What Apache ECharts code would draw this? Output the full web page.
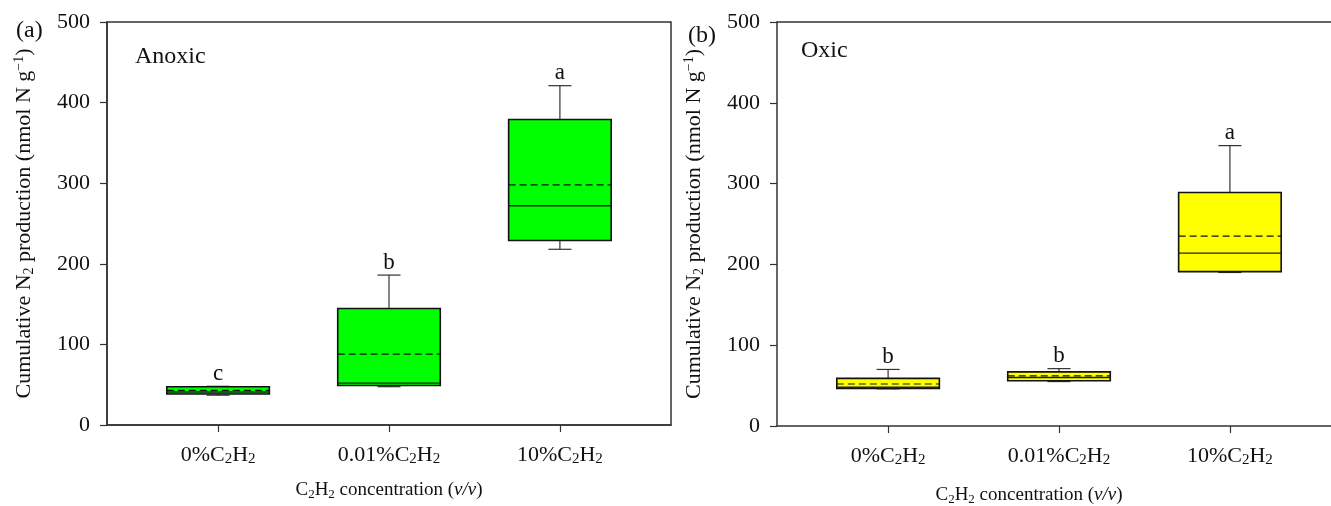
<!DOCTYPE html>
<html>
<head>
<meta charset="utf-8">
<script src="https://cdn.jsdelivr.net/npm/echarts@6/dist/echarts.min.js"></script>
<style>
    html, body { margin: 0; padding: 0; background: #fff; }
    #chart { width: 1331px; height: 506px; }
</style>
</head>
<body>
<div id="chart"></div>
<script>
// categories on the x axis (positions 1, 2, 3)
const categories = ['0%', '0.01%', '10%'];
const catPos = [1, 2, 3];

// anoxic panel (a)
const anoxicLow = [37, 47.5, 218];
const anoxicQ1 = [38.5, 49, 229];
const anoxicMedian = [41, 52, 272];
const anoxicMean = [43, 88, 298];
const anoxicQ3 = [47.5, 144.5, 379];
const anoxicHigh = [48, 186, 421];
const anoxicLetters = ['c', 'b', 'a'];

// oxic panel (b)
const oxicLow = [46, 55, 190];
const oxicQ1 = [46.5, 56, 191];
const oxicMedian = [48, 60, 214];
const oxicMean = [52, 62, 235];
const oxicQ3 = [59, 67, 289];
const oxicHigh = [70, 71, 347];
const oxicLetters = ['b', 'b', 'a'];

const yTicks = [0, 100, 200, 300, 400, 500];

const FONT = "'Liberation Serif', 'Times New Roman', serif";
const BOX_W = 0.6;
const CAP_W = 0.135;

function buildRows(low, q1, med, mean, q3, high, letters) {
    return catPos.map((x, i) => ({
        value: [x, low[i], q1[i], med[i], mean[i], q3[i], high[i]],
        letter: letters[i]
    }));
}

function makeRender(rows, fill) {
    return function (params, api) {
        const x = api.value(0);
        const low = api.coord([x, api.value(1)]);
        const q1 = api.coord([x, api.value(2)]);
        const med = api.coord([x, api.value(3)]);
        const mean = api.coord([x, api.value(4)]);
        const q3 = api.coord([x, api.value(5)]);
        const high = api.coord([x, api.value(6)]);
        const halfBox = api.size([BOX_W, 0])[0] / 2;
        const halfCap = api.size([CAP_W, 0])[0] / 2;
        const cx = q1[0];
        const thin = { stroke: '#333', lineWidth: 1.2 };
        return {
            type: 'group',
            children: [
                { type: 'line', shape: { x1: cx, y1: q3[1], x2: cx, y2: high[1] }, style: thin },
                { type: 'line', shape: { x1: cx, y1: q1[1], x2: cx, y2: low[1] }, style: thin },
                { type: 'line', shape: { x1: cx - halfCap, y1: high[1], x2: cx + halfCap, y2: high[1] }, style: thin },
                { type: 'line', shape: { x1: cx - halfCap, y1: low[1], x2: cx + halfCap, y2: low[1] }, style: thin },
                {
                    type: 'rect',
                    shape: { x: cx - halfBox, y: q3[1], width: halfBox * 2, height: q1[1] - q3[1] },
                    style: { fill: fill, stroke: '#111', lineWidth: 1.6 }
                },
                { type: 'line', shape: { x1: cx - halfBox, y1: med[1], x2: cx + halfBox, y2: med[1] }, style: { stroke: '#222', lineWidth: 1.4 } },
                { type: 'line', shape: { x1: cx - halfBox, y1: mean[1], x2: cx + halfBox, y2: mean[1] }, style: { stroke: '#111', lineWidth: 1.2, lineDash: [7, 4] } },
                {
                    type: 'text',
                    x: cx, y: high[1] - 1,
                    style: {
                        text: rows[params.dataIndex].letter,
                        fontFamily: FONT, fontSize: 23, fill: '#111',
                        align: 'center', verticalAlign: 'bottom'
                    }
                }
            ]
        };
    };
}

const subStyle = { fontFamily: FONT, fontSize: 15, lineHeight: 6, verticalAlign: 'bottom', color: '#111' };
const supStyle = { fontFamily: FONT, fontSize: 14, lineHeight: 6, verticalAlign: 'top', color: '#111' };
const axisColor = '#333';

function xAxisFor(gridIndex, titlePad, titleGap) {
    return {
        type: 'value', gridIndex: gridIndex, min: 0.35, max: 3.65,
        splitLine: { show: false },
        axisLine: { lineStyle: { color: axisColor, width: 1.5 } },
        axisTick: { customValues: catPos, length: 7, lineStyle: { color: axisColor, width: 1.2 } },
        axisLabel: {
            customValues: catPos, margin: 18,
            fontFamily: FONT, fontSize: 22, color: '#111', lineHeight: 24,
            formatter: (v) => categories[catPos.indexOf(v)] + 'C{s|2}H{s|2}',
            rich: { s: subStyle }
        },
        name: 'C{s|2}H{s|2} concentration ({i|v/v})',
        nameLocation: 'middle', nameGap: titleGap,
        nameTextStyle: {
            fontFamily: FONT, fontSize: 19, color: '#111', lineHeight: 22,
            padding: titlePad,
            rich: {
                s: Object.assign({}, subStyle, { fontSize: 13 }),
                i: { fontFamily: FONT, fontSize: 19, fontStyle: 'italic', color: '#111' }
            }
        }
    };
}

// plain top line used as the frame of panel (b)
function topFrame(gridIndex) {
    return {
        type: 'value', gridIndex: gridIndex, position: 'top', min: 0.35, max: 3.65,
        splitLine: { show: false },
        axisLine: { show: true, lineStyle: { color: axisColor, width: 1.5 } },
        axisTick: { show: false },
        axisLabel: { show: false }
    };
}

function yAxisFor(gridIndex) {
    return {
        type: 'value', gridIndex: gridIndex, min: 0, max: 500, interval: 100,
        splitLine: { show: false },
        axisLine: { show: true, lineStyle: { color: axisColor, width: 1.5 } },
        axisTick: { show: true, length: 7, lineStyle: { color: axisColor, width: 1.2 } },
        axisLabel: {
            margin: 17, fontFamily: FONT, fontSize: 22, color: '#111',
            customValues: yTicks
        },
        name: 'Cumulative N{s|2} production (nmol N g{p|\u22121})',
        nameLocation: 'middle', nameGap: 71, nameRotate: 90,
        nameTextStyle: {
            fontFamily: FONT, fontSize: 22, color: '#111', lineHeight: 24,
            rich: { s: Object.assign({}, subStyle, { fontSize: 14 }), p: supStyle }
        }
    };
}

const anoxicRows = buildRows(anoxicLow, anoxicQ1, anoxicMedian, anoxicMean, anoxicQ3, anoxicHigh, anoxicLetters);
const oxicRows = buildRows(oxicLow, oxicQ1, oxicMedian, oxicMean, oxicQ3, oxicHigh, oxicLetters);

const chart = echarts.init(document.getElementById('chart'), null, { renderer: 'canvas' });

const headStyle = { fontFamily: FONT, fontSize: 24, fontWeight: 'normal', color: '#111' };

chart.setOption({
    animation: false,
    backgroundColor: '#fff',
    title: [
        { text: '(a)', left: 11, top: 14, textStyle: headStyle },
        { text: '(b)', left: 683, top: 19, textStyle: headStyle },
        { text: 'Anoxic', left: 130, top: 40, textStyle: headStyle },
        { text: 'Oxic', left: 796, top: 34, textStyle: headStyle }
    ],
    grid: [
        { left: 107, top: 22, width: 564, height: 403, show: true, borderColor: axisColor, borderWidth: 1.5, outerBoundsMode: 'none' },
        // panel (b) runs past the right edge of the picture
        { left: 777, top: 22, width: 564, height: 404, show: false, outerBoundsMode: 'none' }
    ],
    xAxis: [
        xAxisFor(0, [0, 0, 0, 0], 54),
        xAxisFor(1, [0, 60, 0, 0], 58),
        topFrame(1)
    ],
    yAxis: [yAxisFor(0), yAxisFor(1)],
    series: [
        {
            type: 'custom', xAxisIndex: 0, yAxisIndex: 0,
            data: anoxicRows,
            encode: { x: 0, y: [1, 2, 3, 4, 5, 6] },
            renderItem: makeRender(anoxicRows, '#00ff00')
        },
        {
            type: 'custom', xAxisIndex: 1, yAxisIndex: 1,
            data: oxicRows,
            encode: { x: 0, y: [1, 2, 3, 4, 5, 6] },
            renderItem: makeRender(oxicRows, '#ffff00')
        }
    ]
});
</script>
</body>
</html>
